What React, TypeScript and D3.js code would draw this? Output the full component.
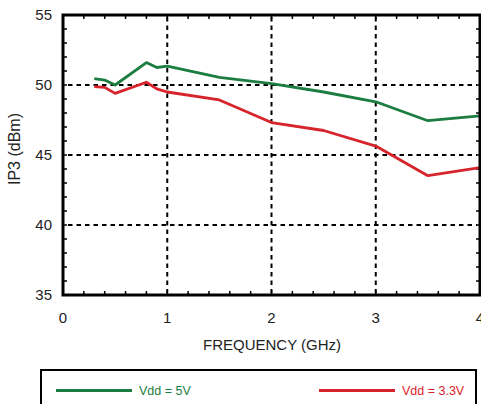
import { useEffect, useRef } from 'react'
import * as d3 from 'd3'

// frequency points (GHz)
const freqs = [0.3, 0.4, 0.5, 0.8, 0.9, 1.0, 1.5, 2.0, 2.5, 3.0, 3.5, 4.0]
// IP3 (dBm) for each supply voltage
const ip3Vdd5 = [50.45, 50.35, 50.0, 51.6, 51.25, 51.35, 50.55, 50.1, 49.5, 48.8, 47.45, 47.8]
const ip3Vdd33 = [49.88, 49.83, 49.4, 50.2, 49.72, 49.5, 48.93, 47.32, 46.75, 45.64, 43.52, 44.1]

const xTicks = [0, 1, 2, 3, 4]
const yTicks = [35, 40, 45, 50, 55]
const seriesNames = ['Vdd = 5V', 'Vdd = 3.3V']

const GREEN = '#1b7d3f'
const RED = '#d7232b'

const App = () => {
  const svgRef = useRef(null)

  useEffect(() => {
    const width = 481
    const height = 404
    const left = 63
    const right = 480
    const top = 15
    const bottom = 295
    const font = '"Liberation Sans", Arial, Helvetica, sans-serif'

    const svg = d3.select(svgRef.current)
    svg.selectAll('*').remove()
    svg.attr('width', width).attr('height', height)

    const x = d3.scaleLinear().domain([0, 4]).range([left, right])
    const y = d3.scaleLinear().domain([35, 55]).range([bottom, top])

    // dashed grid
    svg.append('g')
      .selectAll('line')
      .data([1, 2, 3])
      .join('line')
      .attr('x1', d => x(d)).attr('x2', d => x(d))
      .attr('y1', top + 2).attr('y2', bottom - 2)
      .attr('stroke', '#000')
      .attr('stroke-width', 2)
      .attr('stroke-dasharray', '4.5,4')

    svg.append('g')
      .selectAll('line')
      .data([40, 45, 50])
      .join('line')
      .attr('x1', left + 5).attr('x2', right - 3)
      .attr('y1', d => y(d)).attr('y2', d => y(d))
      .attr('stroke', '#000')
      .attr('stroke-width', 2)
      .attr('stroke-dasharray', '4.5,4')

    // minor ticks inside the frame
    const xMinor = d3.range(0, 4.001, 0.2)
    const yMinor = d3.range(35, 55.001, 1)
    const ticks = svg.append('g').attr('stroke', '#000').attr('stroke-width', 1.5)
    xMinor.forEach(f => {
      ticks.append('line').attr('x1', x(f)).attr('x2', x(f)).attr('y1', bottom).attr('y2', bottom - 4)
      ticks.append('line').attr('x1', x(f)).attr('x2', x(f)).attr('y1', top).attr('y2', top + 4)
    })
    yMinor.forEach(v => {
      ticks.append('line').attr('x1', left).attr('x2', left + 4).attr('y1', y(v)).attr('y2', y(v))
      ticks.append('line').attr('x1', right).attr('x2', right - 4).attr('y1', y(v)).attr('y2', y(v))
    })

    // data lines
    const line = d3.line<number>()
      .x((d, i) => x(freqs[i]))
      .y(d => y(d))

    const series = [ip3Vdd5, ip3Vdd33]
    const colors = [GREEN, RED]
    series.forEach((s, i) => {
      svg.append('path')
        .datum(s)
        .attr('d', line)
        .attr('fill', 'none')
        .attr('stroke', colors[i])
        .attr('stroke-width', 2.8)
        .attr('stroke-linejoin', 'round')
    })

    // frame
    svg.append('rect')
      .attr('x', left).attr('y', top)
      .attr('width', right - left).attr('height', bottom - top)
      .attr('fill', 'none')
      .attr('stroke', '#000')
      .attr('stroke-width', 3)

    // tick labels
    svg.append('g')
      .selectAll('text')
      .data(xTicks)
      .join('text')
      .attr('x', d => x(d))
      .attr('y', 323)
      .attr('text-anchor', 'middle')
      .style('font-family', font)
      .style('font-size', '15px')
      .attr('fill', '#222')
      .text(d => d)

    svg.append('g')
      .selectAll('text')
      .data(yTicks)
      .join('text')
      .attr('x', 52)
      .attr('y', d => y(d))
      .attr('dy', '0.35em')
      .attr('text-anchor', 'end')
      .style('font-family', font)
      .style('font-size', '15px')
      .attr('fill', '#222')
      .text(d => d)

    // axis titles
    svg.append('text')
      .attr('x', 272)
      .attr('y', 350)
      .attr('text-anchor', 'middle')
      .style('font-family', font)
      .style('font-size', '15px')
      .attr('fill', '#222')
      .text('FREQUENCY (GHz)')

    svg.append('text')
      .attr('transform', 'translate(20,149) rotate(-90)')
      .attr('text-anchor', 'middle')
      .style('font-family', font)
      .style('font-size', '16px')
      .attr('fill', '#222')
      .text('IP3 (dBm)')

    // legend
    svg.append('rect')
      .attr('x', 41).attr('y', 370)
      .attr('width', 435).attr('height', 60)
      .attr('fill', 'none')
      .attr('stroke', '#000')
      .attr('stroke-width', 2)

    const legendX = [56, 319]
    seriesNames.forEach((name, i) => {
      svg.append('line')
        .attr('x1', legendX[i]).attr('x2', legendX[i] + 76)
        .attr('y1', 390.5).attr('y2', 390.5)
        .attr('stroke', colors[i])
        .attr('stroke-width', 3)
      svg.append('text')
        .attr('x', legendX[i] + 83)
        .attr('y', 395)
        .style('font-family', font)
        .style('font-size', '12.5px')
        .attr('fill', colors[i])
        .text(name)
    })
  }, [])

  return (
    <svg ref={svgRef} style={{ position: 'absolute', left: 0, top: 0, background: '#fff' }}></svg>
  )
}

export default App
